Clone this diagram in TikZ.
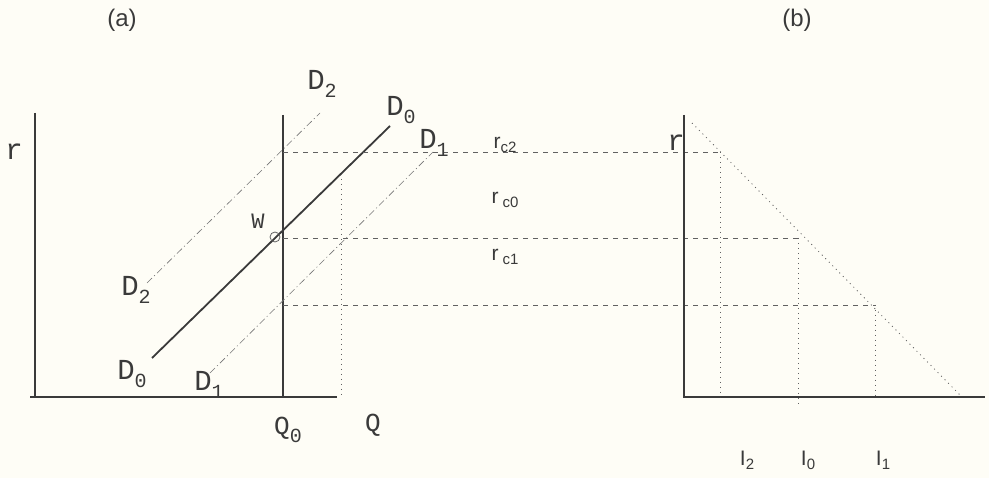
\documentclass[tikz,border=0pt]{standalone}
\usepackage{fontspec}
\setmainfont{Liberation Mono}
\newfontfamily\labelsans{Liberation Sans}
\usetikzlibrary{positioning, calc}
\definecolor{papercol}{HTML}{FEFDF6}
\definecolor{inkcol}{HTML}{3A3A3A}
\newcommand{\lowsub}[1]{\raisebox{-0.55ex}{\fontsize{20}{20}\selectfont #1}}
\newcommand{\smallsub}[1]{\raisebox{-0.35ex}{\fontsize{15}{15}\selectfont #1}}

\begin{document}
\begin{tikzpicture}[
    x=1pt, y=-1pt,
    axis/.style={line width=2.2pt, color=inkcol},
    demand/.style={line width=1.8pt, color=inkcol},
    shifted/.style={line width=0.6pt, color=inkcol!70, dash pattern=on 7pt off 3pt on 1pt off 3pt},
    guide/.style={line width=0.6pt, color=inkcol!80, dash pattern=on 5pt off 5pt},
    drop/.style={line width=0.9pt, color=inkcol!80, dash pattern=on 1pt off 4pt},
    dlabel/.style={font=\fontsize{29}{29}\selectfont, color=inkcol, inner sep=0pt},
    slabel/.style={font=\labelsans\fontsize{21}{21}\selectfont, color=inkcol, inner sep=0pt}
]
\fill[papercol] (0,0) rectangle (989,478);
\useasboundingbox (0,0) rectangle (989,478);

% panel (a)
\coordinate (oa) at (35,397);
\coordinate (ya) at (35,113);
\coordinate (xa) at (337,397);
\coordinate (xa0) at (30,397);
\coordinate (qtop) at (283,115);
\coordinate (qbot) at (283,397);
\draw[axis] (ya) -- (oa);
\draw[axis] (xa0) -- (xa);
\draw[line width=1.6pt, color=inkcol] (qtop) -- (qbot);

\coordinate (d0s) at (152,358);
\coordinate (d0e) at (390,126);
\coordinate (d2s) at (147,283);
\coordinate (d2e) at (320,113);
\coordinate (d1s) at (210,373);
\coordinate (d1e) at (433,152);
\draw[demand] (d0s) -- (d0e);
\draw[shifted] (d2s) -- (d2e);
\draw[shifted] (d1s) -- (d1e);
\node[circle, draw=inkcol!80, line width=0.8pt, minimum size=10pt, inner sep=0pt] (w) at (275,237) {};

\coordinate (ra) at (341,174);
\coordinate (rb) at (341,397);
\draw[drop] (ra) -- (rb);

% price lines
\coordinate (p2a) at (283,152);
\coordinate (p2b) at (720,152);
\coordinate (p0a) at (283,238);
\coordinate (p0b) at (798,238);
\coordinate (p1a) at (283,305);
\coordinate (p1b) at (875,305);
\draw[guide] (p2a) -- (p2b);
\draw[guide] (p0a) -- (p0b);
\draw[guide] (p1a) -- (p1b);

% panel (b)
\coordinate (ob) at (684,397);
\coordinate (yb) at (684,115);
\coordinate (xb) at (985,397);
\draw[axis] (yb) -- (ob) -- (xb);
\coordinate (i2b) at (720,397);
\coordinate (i0b) at (798,405);
\coordinate (i1b) at (875,397);
\draw[drop] (p2b) -- (i2b);
\draw[drop] (p0b) -- (i0b);
\draw[drop] (p1b) -- (i1b);
\coordinate (ls) at (692,123);
\coordinate (le) at (960,395);
\draw[drop, line width=0.8pt] (ls) -- (le);

% labels
\node[dlabel] (ra-lbl) at (14,152) {r};
\node[slabel, font=\labelsans\fontsize{24}{24}\selectfont] (pa) at (122,20) {(a)};
\node[slabel, font=\labelsans\fontsize{24}{24}\selectfont] (pb) at (797,20) {(b)};
\node[dlabel] (d2top) at (322,84) {D\lowsub{2}};
\node[dlabel] (d0top) at (401,110) {D\lowsub{0}};
\node[dlabel] (d1top) at (434,143) {D\lowsub{1}};
\node[dlabel] (d2low) at (136,290) {D\lowsub{2}};
\node[dlabel] (d0low) at (132,374) {D\lowsub{0}};
\node[dlabel] (d1low) at (209,385) {D\lowsub{1}};
\node[dlabel, font=\fontsize{22}{22}\selectfont] (wlbl) at (258,221) {W};
\node[dlabel, font=\fontsize{26}{26}\selectfont] (q0) at (288,430) {Q\lowsub{0}};
\node[dlabel, font=\fontsize{26}{26}\selectfont] (q) at (373,425) {Q};
\node[slabel] (rc2) at (505,145) {r\smallsub{c2}};
\node[slabel] (rc0) at (505,200) {r\smallsub{ c0}};
\node[slabel] (rc1) at (505,257) {r\smallsub{ c1}};
\node[dlabel] (rb-lbl) at (676,143) {r};
\node[slabel] (i2) at (747,460) {I\smallsub{2}};
\node[slabel] (i0) at (808,460) {I\smallsub{0}};
\node[slabel] (i1) at (883,460) {I\smallsub{1}};
\end{tikzpicture}
\end{document}
